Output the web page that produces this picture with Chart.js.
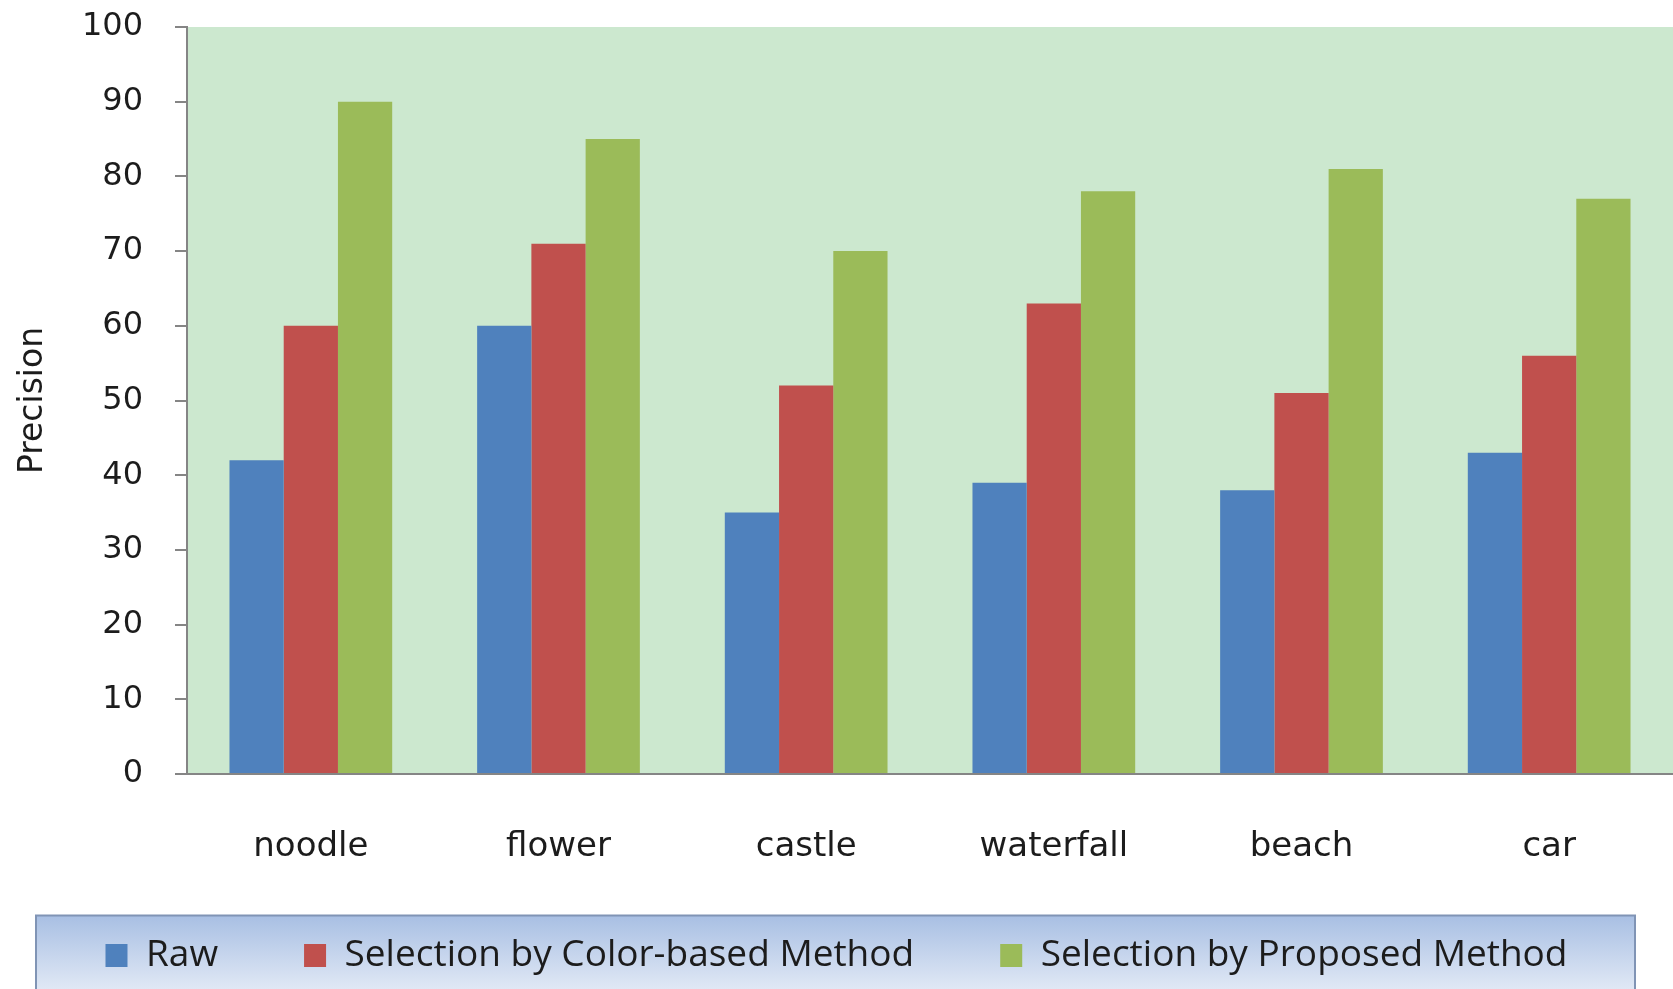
<!DOCTYPE html>
<html>
<head>
<meta charset="utf-8">
<title>Precision by category</title>
<script src="https://cdn.jsdelivr.net/npm/chart.js@4.4.0/dist/chart.umd.min.js"></script>
<style>
  html, body { margin: 0; padding: 0; background: #fff; }
  #chart { display: block; }
</style>
</head>
<body>
<canvas id="chart" width="1673" height="989"></canvas>
<script>
// data
const categories = ['noodle', 'flower', 'castle', 'waterfall', 'beach', 'car'];
const rawValues = [42, 60, 35, 39, 38, 43];
const colorBasedValues = [60, 71, 52, 63, 51, 56];
const proposedValues = [90, 85, 70, 78, 81, 77];
const seriesNames = ['Raw', 'Selection by Color-based Method', 'Selection by Proposed Method'];
const yTicks = [0, 10, 20, 30, 40, 50, 60, 70, 80, 90, 100];

const AXIS_GRAY = '#858585';
const TEXT = '#1c1c1c';

// paints the green plot area and the blue legend frame
const backdrop = {
    id: 'backdrop',
    afterLayout(chart) {
        // x labels sit low, let them draw past the scale box instead of being clipped
        const x = chart.scales.x;
        if (x) x.bottom = chart.height;
    },
    beforeDraw(chart) {
        const { ctx, chartArea: a, legend } = chart;
        ctx.save();
        ctx.fillStyle = '#cce8cf';
        ctx.fillRect(a.left, a.top, a.right - a.left, a.bottom - a.top);

        if (legend && legend.legendHitBoxes && legend.legendHitBoxes.length) {
            const hb = legend.legendHitBoxes[0];
            const cy = hb.top + hb.height / 2;
            const top = cy - 40, left = 36, right = chart.width - 38;
            const g = ctx.createLinearGradient(0, top, 0, chart.height);
            g.addColorStop(0, '#a8bfe3');
            g.addColorStop(1, '#e0e8f5');
            ctx.fillStyle = g;
            ctx.fillRect(left, top, right - left, chart.height - top + 10);
            ctx.strokeStyle = '#8094b5';
            ctx.lineWidth = 2;
            ctx.strokeRect(left, top, right - left, chart.height - top + 10);
        }
        ctx.restore();
    }
};

new Chart(document.getElementById('chart'), {
    type: 'bar',
    data: {
        labels: categories,
        datasets: [
            { label: seriesNames[0], data: rawValues, backgroundColor: '#4f81bd' },
            { label: seriesNames[1], data: colorBasedValues, backgroundColor: '#c0504d' },
            { label: seriesNames[2], data: proposedValues, backgroundColor: '#9bbb59' }
        ]
    },
    options: {
        responsive: false,
        devicePixelRatio: 1,
        animation: false,
        categoryPercentage: 0.657,
        barPercentage: 1.0,
        borderWidth: 0,
        layout: { padding: { top: 27, right: 0, bottom: 5, left: 0 } },
        plugins: {
            tooltip: { enabled: false },
            legend: {
                position: 'bottom',
                labels: {
                    font: { family: 'Open Sans', size: 37 },
                    color: TEXT,
                    boxWidth: 22,
                    boxHeight: 23,
                    padding: 86
                }
            }
        },
        scales: {
            x: {
                grid: { display: false, drawTicks: false },
                border: { display: true, color: AXIS_GRAY, width: 2 },
                ticks: {
                    font: { family: 'DejaVu Sans', size: 34 },
                    color: TEXT,
                    padding: 53,
                    maxRotation: 0
                },
                afterFit: (scale) => { scale.height = 77; }
            },
            y: {
                min: 0,
                max: 100,
                afterBuildTicks: (scale) => { scale.ticks = yTicks.map(v => ({ value: v })); },
                grid: {
                    drawOnChartArea: false,
                    drawTicks: true,
                    tickLength: 12,
                    color: AXIS_GRAY,
                    lineWidth: 2
                },
                border: { display: true, color: AXIS_GRAY, width: 2 },
                ticks: {
                    font: { family: 'DejaVu Sans', size: 32 },
                    color: TEXT,
                    padding: 32
                },
                title: {
                    display: true,
                    text: 'Precision',
                    font: { family: 'DejaVu Sans', size: 33 },
                    color: TEXT,
                    padding: { top: 14, bottom: 0 }
                },
                afterFit: (scale) => {
                    scale.width = 187;
                    scale.paddingTop = 0;
                    scale.paddingBottom = 0;
                }
            }
        }
    },
    plugins: [backdrop]
});
</script>
</body>
</html>
